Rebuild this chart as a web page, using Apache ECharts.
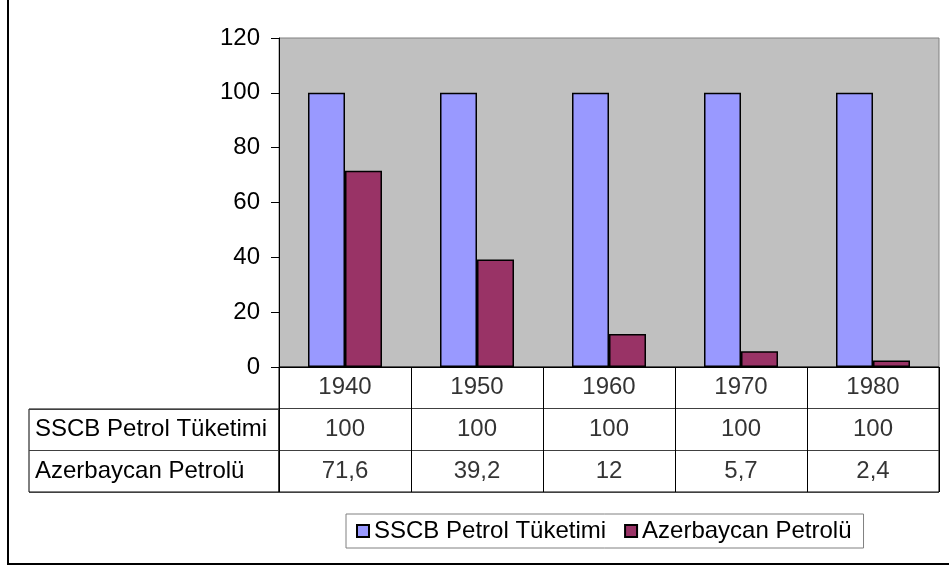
<!DOCTYPE html>
<html>
<head>
<meta charset="utf-8">
<script src="https://cdn.jsdelivr.net/npm/echarts@6/dist/echarts.min.js"></script>
<style>
html,body{margin:0;padding:0;background:#fff;}
#chart{width:949px;height:566px;}
</style>
</head>
<body>
<div id="chart"></div>
<script>
const years = ['1940', '1950', '1960', '1970', '1980'];
const seriesNames = ['SSCB Petrol Tüketimi', 'Azerbaycan Petrolü'];
const sscb = [100, 100, 100, 100, 100];
const azer = [71.6, 39.2, 12, 5.7, 2.4];
const yTicks = { min: 0, max: 120, interval: 20 };

const FONT = '"Liberation Sans", Arial, sans-serif';
const FS = 24;
const fmt = v => String(v).replace('.', ',');

// table cells (category index, row index, text)
const tableRows = ['yil', 'sscb', 'azer'];
const cells = [];
years.forEach((y, i) => {
  cells.push([i, 0, y]);
  cells.push([i, 1, fmt(sscb[i])]);
  cells.push([i, 2, fmt(azer[i])]);
});

const chart = echarts.init(document.getElementById('chart'), null, {renderer: 'canvas'});
chart.setOption({
  animation: false,
  backgroundColor: '#ffffff',
  textStyle: { fontFamily: FONT, color: '#000' },
  graphic: [{
    type: 'rect',
    shape: { x: 8, y: -10, width: 960, height: 574 },
    style: { fill: 'none', stroke: '#000', lineWidth: 2 },
    silent: true, z: 100
  }],
  legend: {
    data: seriesNames,
    left: 346, top: 514,
    orient: 'horizontal',
    padding: [5, 12, 5, 10],
    itemGap: 18,
    itemWidth: 12, itemHeight: 12,
    icon: 'rect',
    borderColor: '#808080', borderWidth: 1,
    textStyle: { fontFamily: FONT, fontSize: FS, color: '#000' }
  },
  grid: [
    { left: 279, right: 10, top: 38, bottom: 199, show: true, backgroundColor: '#c0c0c0', borderColor: '#808080', borderWidth: 1, containLabel: false },
    { left: 279, right: 10, top: 367, height: 125, show: true, backgroundColor: 'transparent', borderColor: '#000', borderWidth: 1 },
    { left: 29, width: 250, top: 409, height: 83, show: true, backgroundColor: 'transparent', borderColor: '#000', borderWidth: 1 }
  ],
  xAxis: [
    { gridIndex: 0, type: 'category', data: years, axisLine: { lineStyle: { color: '#000', width: 1 } }, axisTick: { show: false }, axisLabel: { show: false } },
    { gridIndex: 1, type: 'category', data: years, axisLine: { show: false }, axisTick: { show: false }, axisLabel: { show: false },
      splitLine: { show: true, lineStyle: { color: '#000', width: 1 } } },
    { gridIndex: 2, type: 'value', show: false }
  ],
  yAxis: [
    { gridIndex: 0, type: 'value', min: yTicks.min, max: yTicks.max, interval: yTicks.interval,
      axisLine: { show: true, lineStyle: { color: '#000', width: 1 } },
      axisTick: { show: true, length: 8, lineStyle: { color: '#000' } },
      splitLine: { show: false },
      axisLabel: { color: '#000', fontSize: FS, fontFamily: FONT, margin: 19 } },
    { gridIndex: 1, type: 'category', data: tableRows, inverse: true, axisLine: { show: false }, axisTick: { show: false }, axisLabel: { show: false },
      splitLine: { show: true, lineStyle: { color: '#404040', width: 1 } } },
    { gridIndex: 2, type: 'category', data: seriesNames, inverse: true, axisLine: { show: false }, axisTick: { show: false },
      axisLabel: { show: true, inside: true, margin: 6, color: '#000', fontSize: FS, fontFamily: FONT },
      splitLine: { show: true, lineStyle: { color: '#404040', width: 1 } } }
  ],
  series: [
    { name: seriesNames[0], type: 'bar', xAxisIndex: 0, yAxisIndex: 0, data: sscb, barWidth: 37, barGap: '0%',
      itemStyle: { color: '#9999ff', borderColor: '#000', borderWidth: 1.5 } },
    { name: seriesNames[1], type: 'bar', xAxisIndex: 0, yAxisIndex: 0, data: azer, barWidth: 37, barGap: '0%',
      itemStyle: { color: '#993366', borderColor: '#000', borderWidth: 1.5 } },
    { name: 'table', type: 'scatter', xAxisIndex: 1, yAxisIndex: 1, symbolSize: 0, silent: true,
      data: cells.map(c => ({ value: [c[0], c[1]], text: c[2] })),
      label: { show: true, position: 'inside', color: '#000', fontSize: FS, fontFamily: FONT,
        formatter: p => p.data.text } }
  ]
});
</script>
</body>
</html>
